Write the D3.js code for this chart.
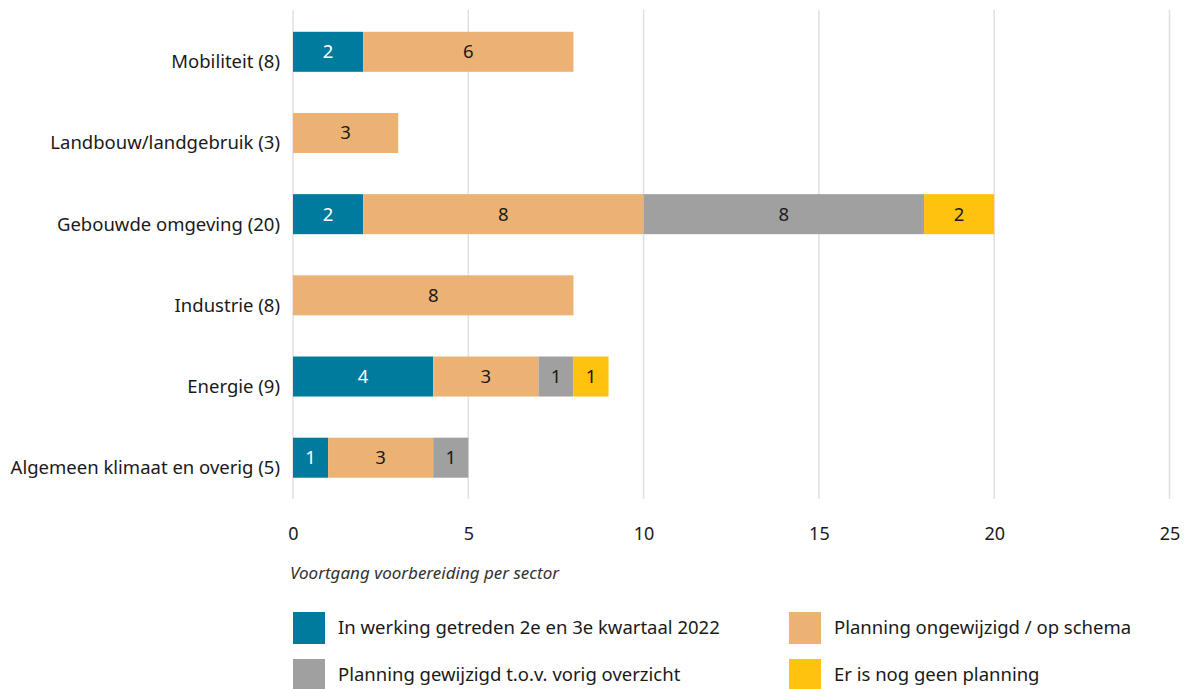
<!DOCTYPE html>
<html lang="nl">
<head>
<meta charset="UTF-8">
<title>Voortgang voorbereiding per sector</title>
<script src="https://d3js.org/d3.v7.min.js"></script>
<style>
  body { margin: 0; background: #fff; font-family: "Noto Sans", "Open Sans", sans-serif; }
  svg { display: block; }
  text { fill: #1a1a1a; }
</style>
</head>
<body>
<svg width="1193" height="689"></svg>
<script>
// data
const sectors = ["Mobiliteit (8)", "Landbouw/landgebruik (3)", "Gebouwde omgeving (20)",
                 "Industrie (8)", "Energie (9)", "Algemeen klimaat en overig (5)"];
const seriesNames = ["In werking getreden 2e en 3e kwartaal 2022", "Planning ongewijzigd / op schema",
                     "Planning gewijzigd t.o.v. vorig overzicht", "Er is nog geen planning"];
const inWerking   = [2, 0, 2, 0, 4, 1];
const ongewijzigd = [6, 3, 8, 8, 3, 3];
const gewijzigd   = [0, 0, 8, 0, 1, 1];
const geenPlan    = [0, 0, 2, 0, 1, 0];
const xTicks = [0, 5, 10, 15, 20, 25];
const colors = ["#007b9d", "#ecb273", "#a0a0a0", "#ffc20f"];

const svg = d3.select("svg");

const rows = sectors.map((s, i) => ({
  sector: s, a: inWerking[i], b: ongewijzigd[i], c: gewijzigd[i], d: geenPlan[i]
}));
const stack = d3.stack().keys(["a", "b", "c", "d"]);
const layers = stack(rows);

const x = d3.scaleLinear().domain([0, 25]).range([293, 1169.5]);
const y = d3.scaleBand().domain(sectors).range([11.5, 498]).paddingInner(0.507).paddingOuter(0.25);

// grid
svg.append("g").selectAll("line").data(xTicks).join("line")
  .attr("x1", d => x(d)).attr("x2", d => x(d))
  .attr("y1", 10).attr("y2", 499)
  .attr("stroke", "#e0e0e0").attr("stroke-width", 1.5);

// bars
const layerG = svg.append("g").selectAll("g").data(layers).join("g")
  .attr("fill", (d, i) => colors[i]);

layerG.selectAll("rect").data(d => d.filter(p => p[1] - p[0] > 0)).join("rect")
  .attr("x", d => x(d[0]))
  .attr("width", d => x(d[1]) - x(d[0]))
  .attr("y", d => y(d.data.sector))
  .attr("height", y.bandwidth());

// value labels
layerG.each(function(layer, li) {
  d3.select(this).selectAll("text").data(layer.filter(p => p[1] - p[0] > 0)).join("text")
    .attr("x", d => (x(d[0]) + x(d[1])) / 2)
    .attr("y", d => y(d.data.sector) + y.bandwidth() / 2)
    .attr("dy", "0.35em")
    .attr("text-anchor", "middle")
    .attr("font-size", 18.5)
    .style("fill", li === 0 ? "#ffffff" : "#1a1a1a")
    .text(d => d[1] - d[0]);
});

// category labels
svg.append("g").selectAll("text").data(sectors).join("text")
  .attr("x", 280)
  .attr("y", d => y(d) + y.bandwidth() / 2 + 10)
  .attr("dy", "0.35em")
  .attr("text-anchor", "end")
  .attr("font-size", 18.5)
  .text(d => d);

// x axis labels
const xAxis = d3.axisBottom(x).tickValues(xTicks).tickSize(0).tickPadding(0);
const axG = svg.append("g").attr("transform", "translate(0,527)").call(xAxis);
axG.select(".domain").remove();
axG.selectAll("text").attr("font-size", 18).attr("font-family", "Noto Sans, sans-serif")
  .style("fill", "#1a1a1a");

// axis title
svg.append("text")
  .attr("x", 290).attr("y", 573).attr("dy", "0.35em")
  .attr("font-size", 17).attr("font-style", "italic")
  .style("fill", "#333")
  .text("Voortgang voorbereiding per sector");

// legend
const legendPos = [[293, 612], [789, 612], [293, 659], [789, 659]];
const order = [0, 1, 2, 3];
const lg = svg.append("g").selectAll("g").data(order).join("g")
  .attr("transform", d => `translate(${legendPos[d][0]},${legendPos[d][1]})`);
lg.append("rect").attr("width", 32).attr("height", 32).attr("fill", d => colors[d]);
lg.append("text").attr("x", 45).attr("y", 16).attr("dy", "0.35em")
  .attr("font-size", 18.5).text(d => seriesNames[d]);
</script>
</body>
</html>
